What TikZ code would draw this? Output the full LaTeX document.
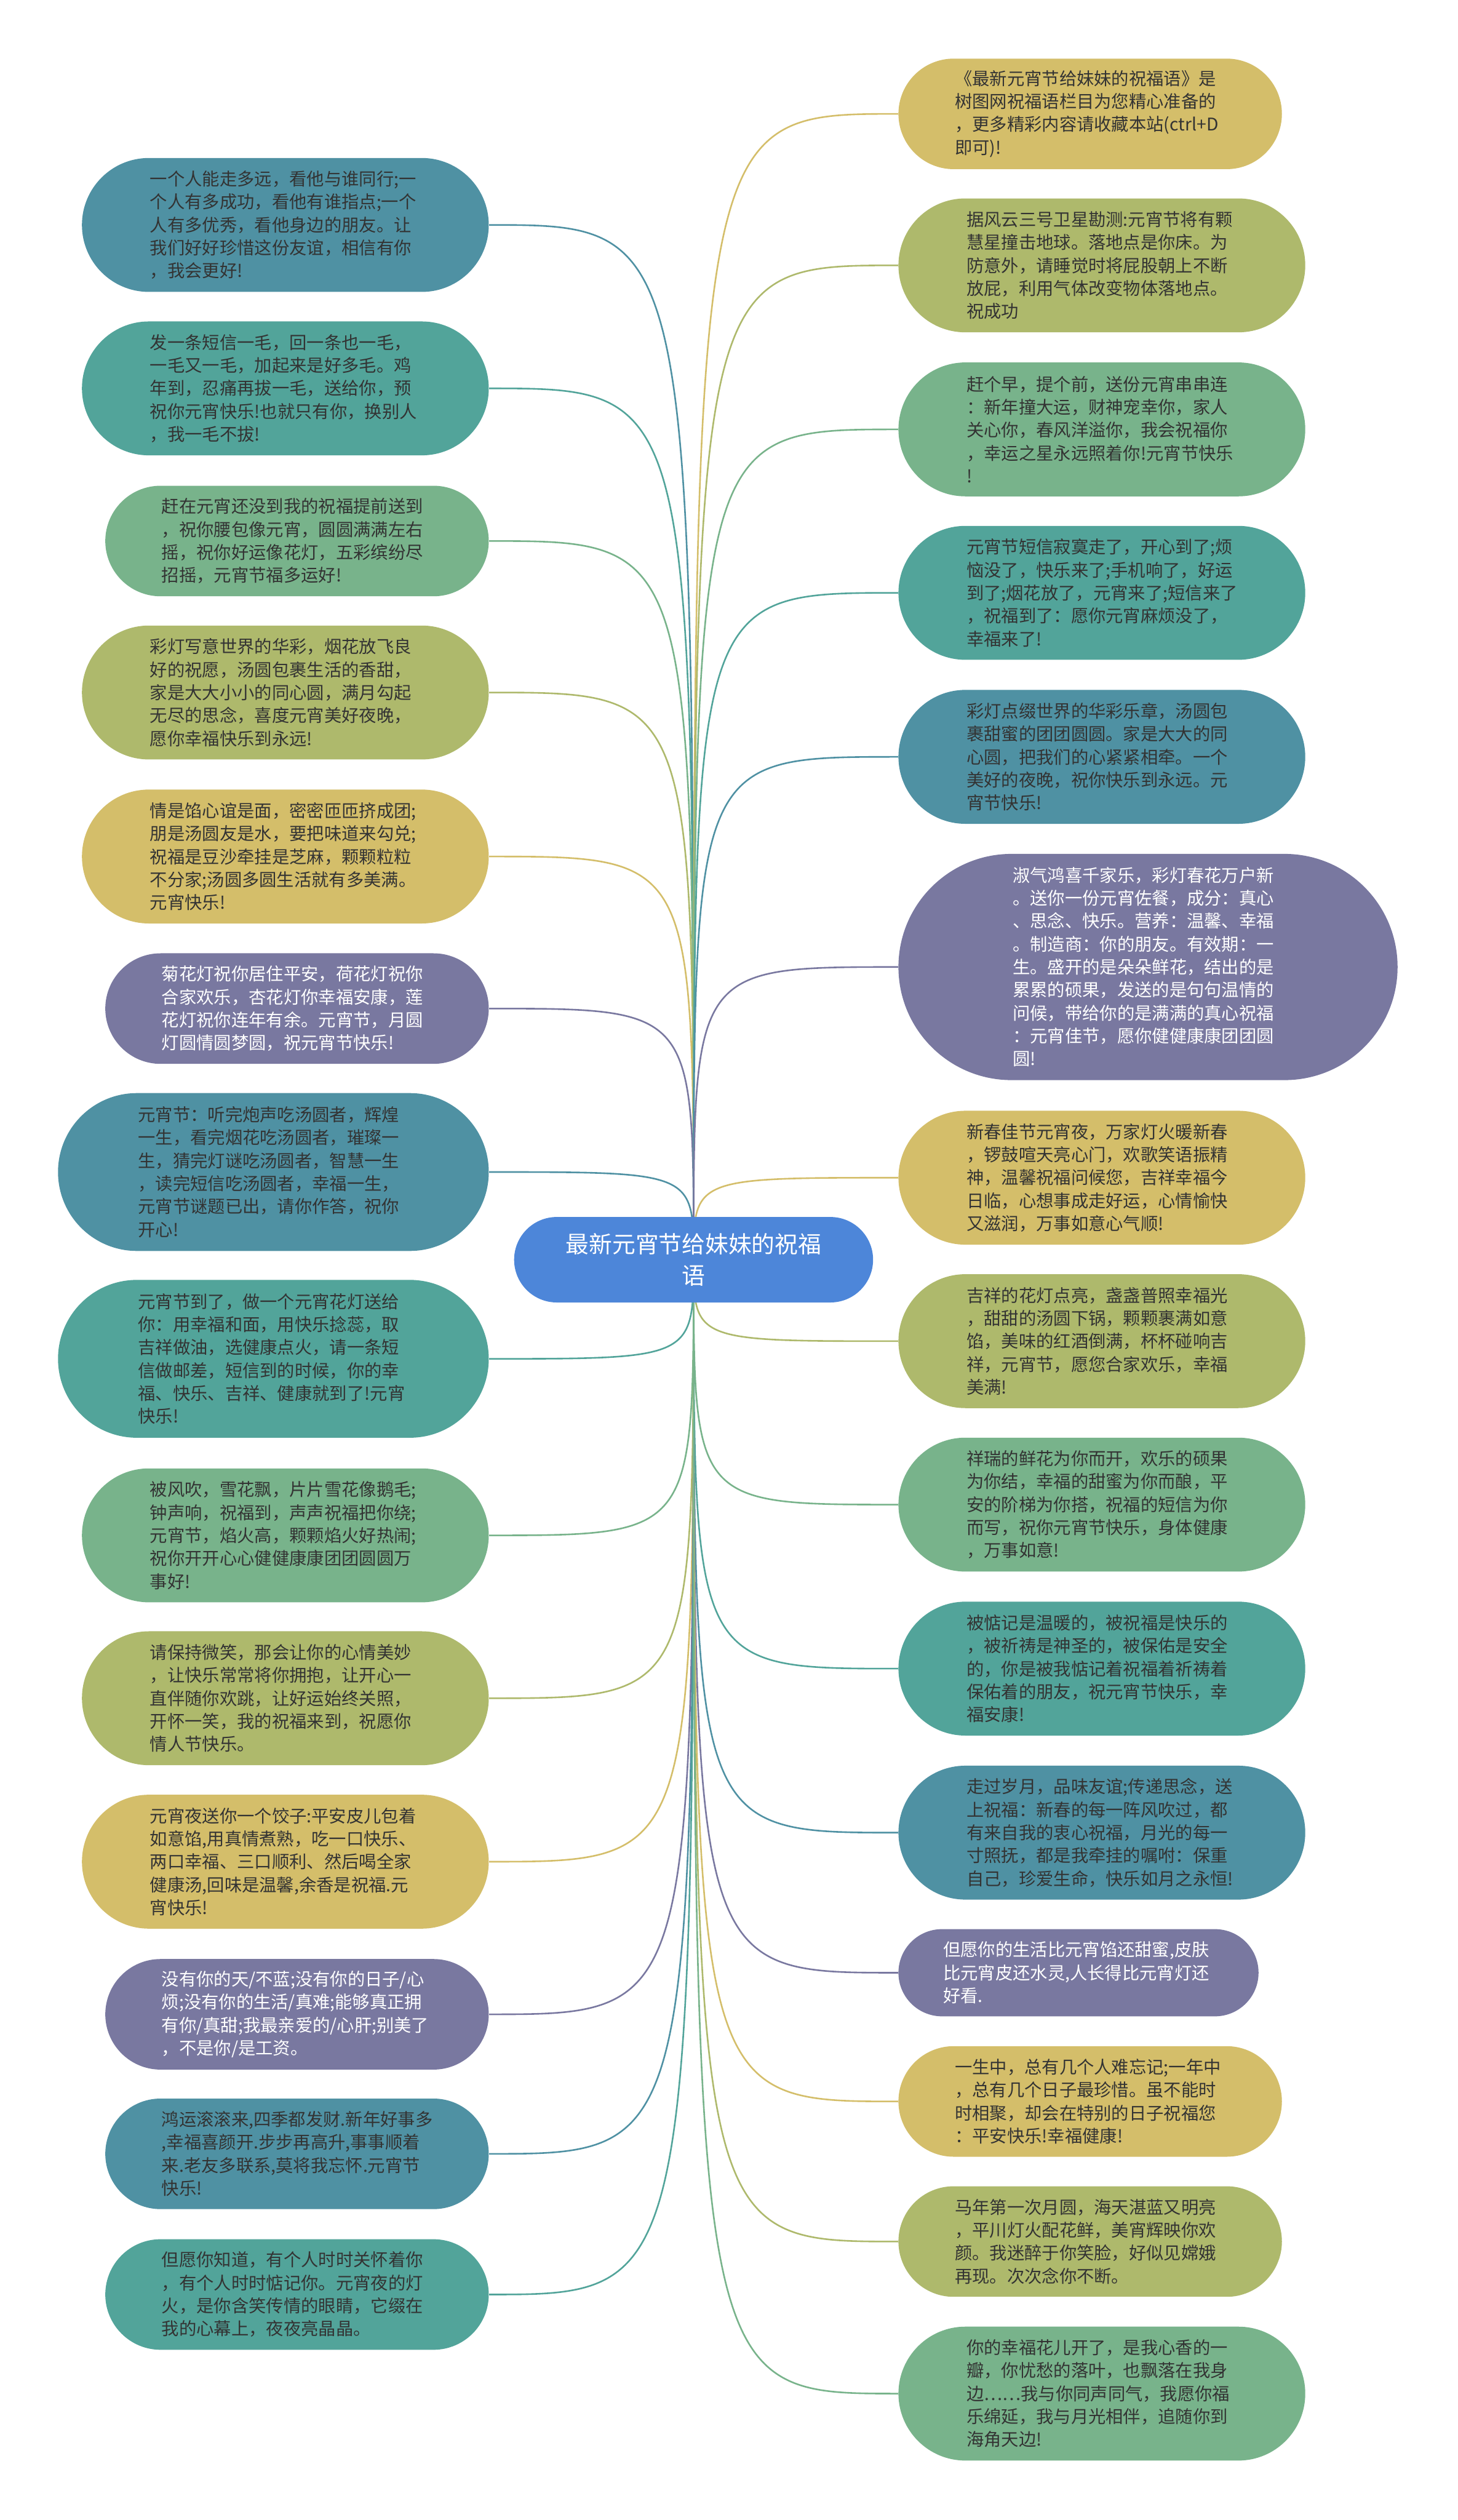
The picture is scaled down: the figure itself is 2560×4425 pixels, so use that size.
\documentclass[tikz,border=0pt]{standalone}
\usepackage{fontspec}
\setmainfont{Noto Sans CJK SC}
\usepackage{tikz}
\usetikzlibrary{backgrounds}
\definecolor{deep}{HTML}{4F91A3}
\definecolor{sea}{HTML}{52A49A}
\definecolor{leaf}{HTML}{78B38B}
\definecolor{moss}{HTML}{AEB96C}
\definecolor{sand}{HTML}{D4BE6A}
\definecolor{dusk}{HTML}{7978A0}
\definecolor{sky}{HTML}{4D86D9}
\definecolor{ink}{HTML}{333333}

\begin{document}
\begin{tikzpicture}[x=0.01cm,y=-0.01cm,
  card/.style={rectangle,text width=4.75cm,align=left,inner ysep=0.1cm,
    font=\fontsize{8.7pt}{11.47pt}\selectfont,text=ink},
  lines3/.style={card,minimum height=1.53cm,rounded corners=0.765cm,inner xsep=0.785cm},
  lines4/.style={card,minimum height=1.94cm,rounded corners=0.97cm,inner xsep=0.99cm},
  lines5/.style={card,minimum height=2.35cm,rounded corners=1.175cm,inner xsep=1.195cm},
  lines6/.style={card,minimum height=2.77cm,rounded corners=1.385cm,inner xsep=1.405cm},
  lines9/.style={card,minimum height=3.97cm,rounded corners=1.985cm,inner xsep=2.005cm},
  link/.style={line width=0.8pt}]
\useasboundingbox (0,0) rectangle (2560,4425);

% centre
\node[rectangle,fill=sky,text=white,text width=4.55cm,align=center,minimum height=1.5cm,rounded corners=0.75cm,
  inner xsep=0.875cm,inner ysep=0.1cm,font=\fontsize{11.6pt}{15.6pt}\selectfont] (root) at (1218,2212) {最新元宵节给妹妹的祝福\\语};

% left side
\node[lines5,anchor=east,fill=deep] (l1) at (859,395) {一个人能走多远，看他与谁同行;一\\个人有多成功，看他有谁指点;一个\\人有多优秀，看他身边的朋友。让\\我们好好珍惜这份友谊，相信有你\\，我会更好!};
\node[lines5,anchor=east,fill=sea] (l2) at (859,682) {发一条短信一毛，回一条也一毛，\\一毛又一毛，加起来是好多毛。鸡\\年到，忍痛再拔一毛，送给你，预\\祝你元宵快乐!也就只有你，换别人\\，我一毛不拔!};
\node[lines4,anchor=east,fill=leaf] (l3) at (859,950) {赶在元宵还没到我的祝福提前送到\\，祝你腰包像元宵，圆圆满满左右\\摇，祝你好运像花灯，五彩缤纷尽\\招摇，元宵节福多运好!};
\node[lines5,anchor=east,fill=moss] (l4) at (859,1216) {彩灯写意世界的华彩，烟花放飞良\\好的祝愿，汤圆包裹生活的香甜，\\家是大大小小的同心圆，满月勾起\\无尽的思念，喜度元宵美好夜晚，\\愿你幸福快乐到永远!};
\node[lines5,anchor=east,fill=sand] (l5) at (859,1504) {情是馅心谊是面，密密匝匝挤成团;\\朋是汤圆友是水，要把味道来勾兑;\\祝福是豆沙牵挂是芝麻，颗颗粒粒\\不分家;汤圆多圆生活就有多美满。\\元宵快乐!};
\node[lines4,anchor=east,fill=dusk,text=white] (l6) at (859,1771) {菊花灯祝你居住平安，荷花灯祝你\\合家欢乐，杏花灯你幸福安康，莲\\花灯祝你连年有余。元宵节，月圆\\灯圆情圆梦圆，祝元宵节快乐!};
\node[lines6,anchor=east,fill=deep] (l7) at (859,2058) {元宵节：听完炮声吃汤圆者，辉煌\\一生，看完烟花吃汤圆者，璀璨一\\生，猜完灯谜吃汤圆者，智慧一生\\，读完短信吃汤圆者，幸福一生，\\元宵节谜题已出，请你作答，祝你\\开心!};
\node[lines6,anchor=east,fill=sea] (l8) at (859,2386) {元宵节到了，做一个元宵花灯送给\\你：用幸福和面，用快乐捻蕊，取\\吉祥做油，选健康点火，请一条短\\信做邮差，短信到的时候，你的幸\\福、快乐、吉祥、健康就到了!元宵\\快乐!};
\node[lines5,anchor=east,fill=leaf] (l9) at (859,2696) {被风吹，雪花飘，片片雪花像鹅毛;\\钟声响，祝福到，声声祝福把你绕;\\元宵节，焰火高，颗颗焰火好热闹;\\祝你开开心心健健康康团团圆圆万\\事好!};
\node[lines5,anchor=east,fill=moss] (l10) at (859,2982) {请保持微笑，那会让你的心情美妙\\，让快乐常常将你拥抱，让开心一\\直伴随你欢跳，让好运始终关照，\\开怀一笑，我的祝福来到，祝愿你\\情人节快乐。};
\node[lines5,anchor=east,fill=sand] (l11) at (859,3269) {元宵夜送你一个饺子:平安皮儿包着\\如意馅,用真情煮熟，吃一口快乐、\\两口幸福、三口顺利、然后喝全家\\健康汤,回味是温馨,余香是祝福.元\\宵快乐!};
\node[lines4,anchor=east,fill=dusk,text=white] (l12) at (859,3537) {没有你的天/不蓝;没有你的日子/心\\烦;没有你的生活/真难;能够真正拥\\有你/真甜;我最亲爱的/心肝;别美了\\，不是你/是工资。};
\node[lines4,anchor=east,fill=deep] (l13) at (859,3782) {鸿运滚滚来,四季都发财.新年好事多\\,幸福喜颜开.步步再高升,事事顺着\\来.老友多联系,莫将我忘怀.元宵节\\快乐!};
\node[lines4,anchor=east,fill=sea] (l14) at (859,4029) {但愿你知道，有个人时时关怀着你\\，有个人时时惦记你。元宵夜的灯\\火，是你含笑传情的眼睛，它缀在\\我的心幕上，夜夜亮晶晶。};

% right side
\node[lines4,anchor=west,fill=sand] (r1) at (1577,200) {《最新元宵节给妹妹的祝福语》是\\树图网祝福语栏目为您精心准备的\\，更多精彩内容请收藏本站(ctrl+D\\即可)!};
\node[lines5,anchor=west,fill=moss] (r2) at (1577,466) {据风云三号卫星勘测:元宵节将有颗\\慧星撞击地球。落地点是你床。为\\防意外，请睡觉时将屁股朝上不断\\放屁，利用气体改变物体落地点。\\祝成功};
\node[lines5,anchor=west,fill=leaf] (r3) at (1577,754) {赶个早，提个前，送份元宵串串连\\：新年撞大运，财神宠幸你，家人\\关心你，春风洋溢你，我会祝福你\\，幸运之星永远照着你!元宵节快乐\\!};
\node[lines5,anchor=west,fill=sea] (r4) at (1577,1041) {元宵节短信寂寞走了，开心到了;烦\\恼没了，快乐来了;手机响了，好运\\到了;烟花放了，元宵来了;短信来了\\，祝福到了：愿你元宵麻烦没了，\\幸福来了!};
\node[lines5,anchor=west,fill=deep] (r5) at (1577,1329) {彩灯点缀世界的华彩乐章，汤圆包\\裹甜蜜的团团圆圆。家是大大的同\\心圆，把我们的心紧紧相牵。一个\\美好的夜晚，祝你快乐到永远。元\\宵节快乐!};
\node[lines9,anchor=west,fill=dusk,text=white] (r6) at (1577,1698) {淑气鸿喜千家乐，彩灯春花万户新\\。送你一份元宵佐餐，成分：真心\\、思念、快乐。营养：温馨、幸福\\。制造商：你的朋友。有效期：一\\生。盛开的是朵朵鲜花，结出的是\\累累的硕果，发送的是句句温情的\\问候，带给你的是满满的真心祝福\\：元宵佳节，愿你健健康康团团圆\\圆!};
\node[lines5,anchor=west,fill=sand] (r7) at (1577,2068) {新春佳节元宵夜，万家灯火暖新春\\，锣鼓喧天亮心门，欢歌笑语振精\\神，温馨祝福问候您，吉祥幸福今\\日临，心想事成走好运，心情愉快\\又滋润，万事如意心气顺!};
\node[lines5,anchor=west,fill=moss] (r8) at (1577,2355) {吉祥的花灯点亮，盏盏普照幸福光\\，甜甜的汤圆下锅，颗颗裹满如意\\馅，美味的红酒倒满，杯杯碰响吉\\祥，元宵节，愿您合家欢乐，幸福\\美满!};
\node[lines5,anchor=west,fill=leaf] (r9) at (1577,2642) {祥瑞的鲜花为你而开，欢乐的硕果\\为你结，幸福的甜蜜为你而酿，平\\安的阶梯为你搭，祝福的短信为你\\而写，祝你元宵节快乐，身体健康\\，万事如意!};
\node[lines5,anchor=west,fill=sea] (r10) at (1577,2930) {被惦记是温暖的，被祝福是快乐的\\，被祈祷是神圣的，被保佑是安全\\的，你是被我惦记着祝福着祈祷着\\保佑着的朋友，祝元宵节快乐，幸\\福安康!};
\node[lines5,anchor=west,fill=deep] (r11) at (1577,3218) {走过岁月，品味友谊;传递思念，送\\上祝福：新春的每一阵风吹过，都\\有来自我的衷心祝福，月光的每一\\寸照抚，都是我牵挂的嘱咐：保重\\自己，珍爱生命，快乐如月之永恒!};
\node[lines3,anchor=west,fill=dusk,text=white] (r12) at (1577,3464) {但愿你的生活比元宵馅还甜蜜,皮肤\\比元宵皮还水灵,人长得比元宵灯还\\好看.};
\node[lines4,anchor=west,fill=sand] (r13) at (1577,3690) {一生中，总有几个人难忘记;一年中\\，总有几个日子最珍惜。虽不能时\\时相聚，却会在特别的日子祝福您\\：平安快乐!幸福健康!};
\node[lines4,anchor=west,fill=moss] (r14) at (1577,3936) {马年第一次月圆，海天湛蓝又明亮\\，平川灯火配花鲜，美宵辉映你欢\\颜。我迷醉于你笑脸，好似见嫦娥\\再现。次次念你不断。};
\node[lines5,anchor=west,fill=leaf] (r15) at (1577,4203) {你的幸福花儿开了，是我心香的一\\瓣，你忧愁的落叶，也飘落在我身\\边……我与你同声同气，我愿你福\\乐绵延，我与月光相伴，追随你到\\海角天边!};

% links
\begin{scope}[on background layer]
\draw[link,deep] (root.center) .. controls (root.center |- l1.east) .. (l1.east);
\draw[link,sea] (root.center) .. controls (root.center |- l2.east) .. (l2.east);
\draw[link,leaf] (root.center) .. controls (root.center |- l3.east) .. (l3.east);
\draw[link,moss] (root.center) .. controls (root.center |- l4.east) .. (l4.east);
\draw[link,sand] (root.center) .. controls (root.center |- l5.east) .. (l5.east);
\draw[link,dusk] (root.center) .. controls (root.center |- l6.east) .. (l6.east);
\draw[link,deep] (root.center) .. controls (root.center |- l7.east) .. (l7.east);
\draw[link,sea] (root.center) .. controls (root.center |- l8.east) .. (l8.east);
\draw[link,leaf] (root.center) .. controls (root.center |- l9.east) .. (l9.east);
\draw[link,moss] (root.center) .. controls (root.center |- l10.east) .. (l10.east);
\draw[link,sand] (root.center) .. controls (root.center |- l11.east) .. (l11.east);
\draw[link,dusk] (root.center) .. controls (root.center |- l12.east) .. (l12.east);
\draw[link,deep] (root.center) .. controls (root.center |- l13.east) .. (l13.east);
\draw[link,sea] (root.center) .. controls (root.center |- l14.east) .. (l14.east);
\draw[link,sand] (root.center) .. controls (root.center |- r1.west) .. (r1.west);
\draw[link,moss] (root.center) .. controls (root.center |- r2.west) .. (r2.west);
\draw[link,leaf] (root.center) .. controls (root.center |- r3.west) .. (r3.west);
\draw[link,sea] (root.center) .. controls (root.center |- r4.west) .. (r4.west);
\draw[link,deep] (root.center) .. controls (root.center |- r5.west) .. (r5.west);
\draw[link,dusk] (root.center) .. controls (root.center |- r6.west) .. (r6.west);
\draw[link,sand] (root.center) .. controls (root.center |- r7.west) .. (r7.west);
\draw[link,moss] (root.center) .. controls (root.center |- r8.west) .. (r8.west);
\draw[link,leaf] (root.center) .. controls (root.center |- r9.west) .. (r9.west);
\draw[link,sea] (root.center) .. controls (root.center |- r10.west) .. (r10.west);
\draw[link,deep] (root.center) .. controls (root.center |- r11.west) .. (r11.west);
\draw[link,dusk] (root.center) .. controls (root.center |- r12.west) .. (r12.west);
\draw[link,sand] (root.center) .. controls (root.center |- r13.west) .. (r13.west);
\draw[link,moss] (root.center) .. controls (root.center |- r14.west) .. (r14.west);
\draw[link,leaf] (root.center) .. controls (root.center |- r15.west) .. (r15.west);
\end{scope}
\end{tikzpicture}
\end{document}
